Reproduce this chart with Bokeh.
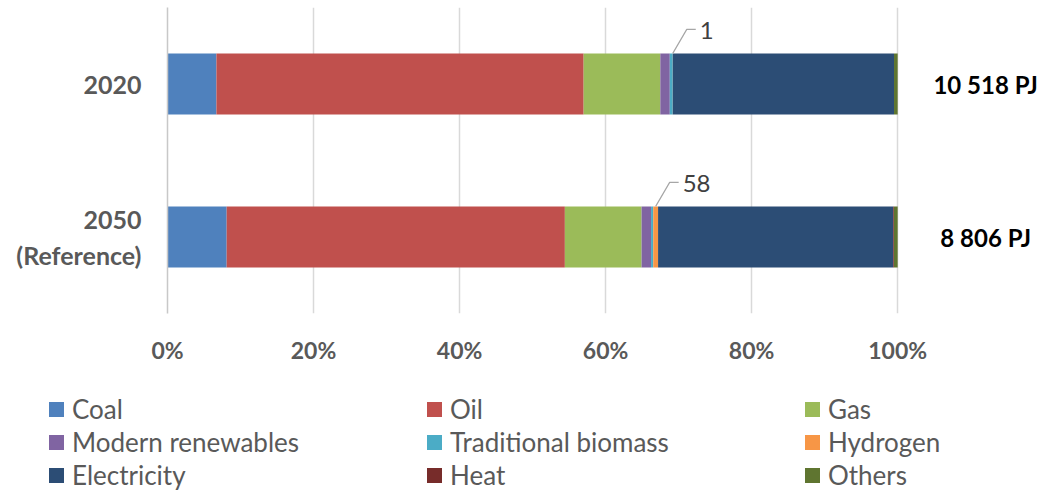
from bokeh.plotting import figure
from bokeh.layouts import column
from bokeh.models import Range1d, FixedTicker, ColumnDataSource, Div
from bokeh.embed import file_html
from bokeh.resources import INLINE
from bokeh.core.properties import value

# ---------------- data ----------------
categories = ["2020", "2050\n(Reference)"]
series = ["Coal", "Oil", "Gas", "Modern renewables", "Traditional biomass",
          "Hydrogen", "Electricity", "Heat", "Others"]
colors = ["#4F81BD", "#C0504D", "#9BBB59", "#8064A2", "#4BACC6",
          "#F79646", "#2C4D75", "#772C2A", "#5F7530"]
coal = [6.7, 8.1]
oil = [50.3, 46.3]
gas = [10.5, 10.5]
modern_renewables = [1.3, 1.3]
traditional_biomass = [0.4, 0.3]
hydrogen = [0.01, 0.66]
electricity = [30.3, 32.2]
heat = [0.0, 0.1]
others = [0.5, 0.5]
totals = ["10 518 PJ", "8 806 PJ"]
hydrogen_labels = ["1", "58"]
tick_values = [0, 20, 40, 60, 80, 100]
tick_labels = ["0%", "20%", "40%", "60%", "80%", "100%"]

values = [coal, oil, gas, modern_renewables, traditional_biomass,
          hydrogen, electricity, heat, others]

# normalise to 100 % (100 % stacked bar)
n = len(categories)
sums = [sum(v[i] for v in values) for i in range(n)]
data = {"y": [n - 1 - i for i in range(n)]}
for name, v in zip(series, values):
    data[name] = [v[i] / sums[i] * 100 for i in range(n)]
source = ColumnDataSource(data)

FONT = "Lato"
GRAY = "#595959"

W, H = 1041, 491
CH = 378                  # chart figure height
LH = H - CH               # legend strip height
LEFT, TOP, FH = 167, 7, 306
FW = W - LEFT
X_END = 119.7

p = figure(width=W, height=CH, output_backend="svg", toolbar_location=None,
           x_range=Range1d(0, X_END), y_range=Range1d(-0.5, n - 0.5),
           min_border_left=LEFT, min_border_right=0, min_border_top=TOP,
           min_border_bottom=CH - TOP - FH)
p.outline_line_color = None
p.background_fill_color = "white"
p.border_fill_color = "white"

renderers = p.hbar_stack(series, y="y", height=0.4, color=colors,
                         source=source, line_color=None)

# axes
p.xaxis.ticker = FixedTicker(ticks=tick_values)
p.xaxis.major_label_overrides = {t: l for t, l in zip(tick_values, tick_labels)}
p.xaxis.axis_line_color = None
p.xaxis.major_tick_line_color = None
p.xaxis.minor_tick_line_color = None
p.xaxis.major_tick_out = 0
p.xaxis.major_label_standoff = 22
p.xaxis.major_label_text_font = FONT
p.xaxis.major_label_text_font_size = "23px"
p.xaxis.major_label_text_font_style = "bold"
p.xaxis.major_label_text_color = GRAY

p.yaxis.ticker = FixedTicker(ticks=data["y"])
p.yaxis.major_label_overrides = {y: c for y, c in zip(data["y"], categories)}
p.yaxis.axis_line_color = "#C8C8C8"
p.yaxis.axis_line_width = 1.5
p.yaxis.major_tick_line_color = None
p.yaxis.minor_tick_line_color = None
p.yaxis.major_tick_out = 0
p.yaxis.major_label_standoff = 26
p.yaxis.major_label_text_align = "center"
p.yaxis.major_label_text_font = FONT
p.yaxis.major_label_text_font_size = "25px"
p.yaxis.major_label_text_font_style = "bold"
p.yaxis.major_label_text_color = GRAY

p.xgrid.ticker = FixedTicker(ticks=tick_values[1:])
p.xgrid.grid_line_color = "#D9D9D9"
p.xgrid.grid_line_width = 1.5
p.ygrid.grid_line_color = None

# totals at right
p.text(x=[tick_values[-1]] * n, y=data["y"], text=totals, x_offset=88,
       text_align="center", text_baseline="middle",
       text_font=value(FONT), text_font_size="24px", text_font_style="bold",
       text_color="black")

# hydrogen callouts
px_x = FW / X_END
px_y = FH / n
before = ["Coal", "Oil", "Gas", "Modern renewables", "Traditional biomass"]
xs, ys, lx, ly = [], [], [], []
for i in range(n):
    x0 = sum(data[s][i] for s in before) + data["Hydrogen"][i] / 2
    y0 = data["y"][i] + 0.2
    x1 = x0 + 14 / px_x
    y1 = y0 + 24 / px_y
    x2 = x1 + 9 / px_x
    xs.append([x0, x1, x2])
    ys.append([y0, y1, y1])
    lx.append(x2 + 4 / px_x)
    ly.append(y1 - 1.5 / px_y)
p.multi_line(xs=xs, ys=ys, line_color="#A6A6A6", line_width=1.2)
p.text(x=lx, y=ly, text=hydrogen_labels, text_align="left",
       text_baseline="middle", text_font=value(FONT), text_font_size="24px",
       text_color="#404040")

# legend strip below the chart: 3 columns x 3 rows
NCOLS, COL_W, ROW_H, LEG_X, LEG_Y, SQ = 3, 378, 33, 49, 15, 15
parts = [f"<div style='position:relative;width:{W}px;height:{LH}px;"
         f"font-family:{FONT};font-size:26px;color:{GRAY};margin:0;padding:0'>"]
for i, (s, c) in enumerate(zip(series, colors)):
    r, k = divmod(i, NCOLS)
    parts.append(
        f"<div style='position:absolute;left:{LEG_X + k * COL_W}px;"
        f"top:{LEG_Y + r * ROW_H}px;height:{ROW_H}px;display:flex;"
        f"align-items:center;white-space:nowrap;line-height:{ROW_H}px'>"
        f"<span style='display:inline-block;width:{SQ}px;height:{SQ}px;"
        f"background:{c};margin-right:8px'></span>{s}</div>")
parts.append("</div>")
legend_div = Div(text="".join(parts), width=W, height=LH, margin=(0, 0, 0, 0))

layout = column(p, legend_div, spacing=0)
open("out.html", "w").write(file_html(layout, INLINE))
